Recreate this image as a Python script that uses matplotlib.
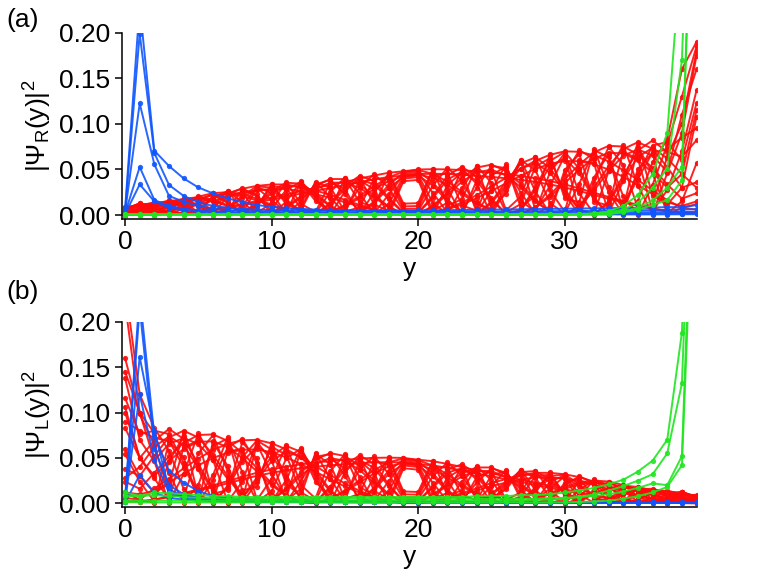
import matplotlib
matplotlib.use("Agg")
import matplotlib.pyplot as plt
from matplotlib.ticker import FormatStrFormatter

plt.rcParams['font.family'] = ['Liberation Sans', 'DejaVu Sans']
plt.rcParams['mathtext.fontset'] = 'custom'
plt.rcParams['mathtext.rm'] = 'Liberation Sans'
plt.rcParams['mathtext.it'] = 'Liberation Sans'
plt.rcParams['mathtext.default'] = 'regular'

sites = list(range(40))

# bulk states, panel (a), sites 0..37
red_a_body = [
    [.0001, .0003, .0007, .0015, .0025, .0041, .0063, .0089, .0122, .0154, .0189, .0228, .0261, .0293, .0333, .0363, .0400, .0434, .0464, .0480, .0500, .0503, .0501, .0493, .0478, .0466, .0448, .0430, .0404, .0373, .0337, .0292, .0245, .0198, .0154, .0112, .0075, .0043],
    [.0003, .0012, .0028, .0053, .0087, .0133, .0185, .0239, .0289, .0320, .0336, .0335, .0308, .0268, .0223, .0166, .0112, .0063, .0024, .0003, .0003, .0027, .0073, .0138, .0219, .0312, .0409, .0508, .0595, .0661, .0699, .0694, .0656, .0587, .0493, .0385, .0271, .0164],
    [.0006, .0026, .0057, .0101, .0150, .0202, .0240, .0251, .0232, .0178, .0113, .0050, .0009, .0002, .0036, .0107, .0207, .0317, .0416, .0474, .0494, .0452, .0367, .0255, .0141, .0051, .0003, .0014, .0090, .0222, .0390, .0556, .0688, .0759, .0752, .0666, .0518, .0336],
    [.0011, .0043, .0088, .0142, .0180, .0195, .0169, .0109, .0042, .0002, .0018, .0094, .0206, .0317, .0395, .0395, .0332, .0216, .0093, .0011, .0012, .0100, .0250, .0409, .0521, .0553, .0483, .0340, .0167, .0035, .0004, .0101, .0300, .0536, .0725, .0799, .0727, .0525],
    [.0017, .0063, .0117, .0160, .0159, .0117, .0047, .0002, .0027, .0130, .0262, .0355, .0344, .0240, .0104, .0009, .0022, .0149, .0331, .0463, .0482, .0360, .0172, .0028, .0012, .0146, .0367, .0567, .0632, .0517, .0284, .0066, .0004, .0150, .0434, .0709, .0819, .0691],
    [.0024, .0082, .0135, .0149, .0100, .0029, .0001, .0070, .0212, .0316, .0301, .0173, .0034, .0009, .0132, .0317, .0430, .0375, .0190, .0025, .0026, .0207, .0433, .0529, .0417, .0185, .0013, .0056, .0308, .0594, .0691, .0508, .0193, .0005, .0109, .0446, .0763, .0800],
    [.0031, .0100, .0140, .0113, .0035, .0001, .0079, .0225, .0296, .0202, .0048, .0008, .0150, .0337, .0386, .0228, .0039, .0023, .0226, .0446, .0465, .0245, .0027, .0048, .0301, .0540, .0514, .0247, .0015, .0094, .0442, .0711, .0616, .0252, .0005, .0158, .0578, .0829],
    [.0040, .0115, .0130, .0065, .0001, .0055, .0200, .0260, .0144, .0007, .0067, .0278, .0365, .0212, .0021, .0057, .0303, .0450, .0297, .0044, .0046, .0322, .0519, .0374, .0076, .0029, .0323, .0602, .0494, .0132, .0016, .0346, .0713, .0633, .0204, .0005, .0332, .0772],
    [.0049, .0125, .0108, .0022, .0016, .0148, .0237, .0130, .0002, .0106, .0316, .0300, .0073, .0020, .0253, .0410, .0240, .0010, .0123, .0425, .0443, .0133, .0012, .0295, .0539, .0354, .0030, .0120, .0533, .0623, .0232, .0004, .0356, .0750, .0550, .0073, .0115, .0641],
    [.0058, .0130, .0078, .0001, .0073, .0207, .0152, .0006, .0099, .0308, .0240, .0019, .0097, .0353, .0309, .0037, .0085, .0399, .0392, .0067, .0070, .0425, .0461, .0104, .0049, .0432, .0539, .0159, .0033, .0472, .0675, .0238, .0017, .0480, .0770, .0324, .0005, .0462],
    [.0067, .0128, .0046, .0008, .0139, .0186, .0034, .0053, .0279, .0226, .0008, .0146, .0370, .0183, .0002, .0259, .0415, .0117, .0043, .0400, .0417, .0046, .0136, .0511, .0341, .0003, .0279, .0609, .0259, .0015, .0494, .0670, .0146, .0106, .0691, .0618, .0043, .0275],
    [.0076, .0121, .0020, .0042, .0178, .0101, .0006, .0208, .0250, .0017, .0138, .0360, .0122, .0035, .0354, .0289, .0003, .0251, .0453, .0095, .0099, .0492, .0290, .0003, .0381, .0496, .0053, .0202, .0639, .0271, .0036, .0600, .0571, .0017, .0375, .0790, .0214, .0116],
    [.0085, .0108, .0003, .0089, .0167, .0019, .0097, .0266, .0059, .0084, .0340, .0119, .0052, .0366, .0192, .0021, .0381, .0284, .0003, .0371, .0386, .0003, .0329, .0470, .0028, .0269, .0559, .0085, .0212, .0669, .0183, .0142, .0730, .0308, .0071, .0744, .0457, .0019],
    [.0093, .0092, .0001, .0133, .0114, .0005, .0213, .0150, .0016, .0298, .0164, .0033, .0357, .0154, .0056, .0405, .0142, .0089, .0470, .0125, .0131, .0509, .0102, .0175, .0533, .0078, .0235, .0588, .0058, .0322, .0651, .0037, .0412, .0673, .0018, .0506, .0683, .0005],
    # second set of smooth arcs, slightly lower
    [.0001, .0003, .0006, .0014, .0023, .0037, .0057, .0080, .0110, .0139, .0170, .0205, .0235, .0264, .0300, .0327, .0360, .0391, .0418, .0432, .0450, .0453, .0451, .0444, .0430, .0419, .0403, .0387, .0364, .0336, .0303, .0263, .0221, .0178, .0139, .0101, .0068, .0039],
    [.0003, .0010, .0024, .0045, .0074, .0113, .0157, .0203, .0246, .0272, .0286, .0285, .0262, .0228, .0190, .0141, .0095, .0054, .0020, .0003, .0003, .0023, .0062, .0117, .0186, .0265, .0348, .0432, .0506, .0562, .0594, .0590, .0558, .0499, .0419, .0327, .0230, .0139],
    [.0005, .0023, .0051, .0091, .0135, .0182, .0216, .0226, .0209, .0160, .0102, .0045, .0008, .0002, .0032, .0096, .0186, .0285, .0374, .0427, .0445, .0407, .0330, .0230, .0127, .0046, .0003, .0013, .0081, .0200, .0351, .0500, .0619, .0683, .0677, .0599, .0466, .0302],
    [.0010, .0039, .0079, .0128, .0162, .0176, .0152, .0098, .0038, .0002, .0016, .0085, .0185, .0285, .0356, .0356, .0299, .0194, .0084, .0010, .0011, .0090, .0225, .0368, .0469, .0498, .0435, .0306, .0150, .0032, .0004, .0091, .0270, .0482, .0653, .0719, .0654, .0473],
    [.0015, .0057, .0105, .0144, .0143, .0105, .0042, .0002, .0024, .0117, .0236, .0320, .0310, .0216, .0094, .0008, .0020, .0134, .0298, .0417, .0434, .0324, .0155, .0025, .0011, .0131, .0330, .0510, .0569, .0465, .0256, .0059, .0004, .0135, .0391, .0638, .0737, .0622],
    [.0022, .0074, .0122, .0134, .0090, .0026, .0001, .0063, .0191, .0284, .0271, .0156, .0031, .0008, .0119, .0285, .0387, .0338, .0171, .0023, .0023, .0186, .0390, .0476, .0375, .0167, .0012, .0050, .0277, .0535, .0622, .0457, .0174, .0005, .0098, .0401, .0687, .0720],
]
# last two sites (38, 39) of panel (a)
red_a_y38 = [.003, .008, .018, .030, .064, .060, .160, .130, .100, .090, .070, .030, .015, .008,
             .002, .010, .045, .110, .045, .085]
red_a_y39 = [.003, .006, .024, .036, .082, .123, .190, .185, .180, .175, .137, .108, .057, .012,
             .002, .015, .115, .160, .030, .095]
# first two sites (0, 1) of panel (b); the rest mirrors panel (a)
red_b_y0 = [.002, .006, .024, .038, .083, .116, .240, .220, .160, .138, .106, .060, .054, .012,
            .003, .012, .100, .145, .028, .090]
red_b_y1 = [.002, .004, .016, .030, .050, .076, .120, .100, .098, .070, .050, .030, .024, .004,
            .002, .010, .050, .100, .040, .080]

blue_a = [
    [.006, .23, .0706, .0538, .0402, .0303, .0238, .0183, .0140, .0110, .0090, .0078, .0068, .0060, .0055, .0050, .0047, .0045, .0043, .0042,
     .0041, .0040, .0040, .0040, .0040, .0040, .0040, .0041, .0042, .0043, .0044, .0045, .0046, .0048, .0050, .0052, .0055, .0058, .0060, .0065],
    [.004, .199, .068, .033, .021, .014, .010, .008, .0068, .0060, .0055, .0052, .0050, .0050, .0050, .0050, .0050, .0050, .0050, .0050,
     .0052, .0053, .0055, .0056, .0058, .0060, .0062, .0064, .0066, .0068, .0070, .0072, .0074, .0076, .0078, .0080, .0082, .0088, .0085, .0110],
    [.003, .1225, .0556, .021, .0146, .010, .007, .0055, .0045, .0040, .0037, .0035, .0034, .0033, .0032, .0031, .0030, .0030, .0030, .0030,
     .0030, .0030, .0030, .0030, .0030, .0030, .0030, .0030, .0030, .0030, .0030, .0030, .0030, .0030, .0030, .0031, .0032, .0033, .0034, .0036],
    [.002, .0527, .0165, .0100, .0070, .0050, .0040, .0033, .0028, .0025, .0022, .0020, .0019, .0018, .0017, .0016, .0015, .0015, .0015, .0015,
     .0015, .0015, .0015, .0015, .0015, .0015, .0015, .0015, .0015, .0015, .0015, .0015, .0015, .0015, .0015, .0015, .0015, .0016, .0017, .0018],
    [.001, .0336, .0150, .0080, .0050, .0035, .0027, .0020, .0016, .0013, .0011, .0010, .0009, .0008, .0008, .0008, .0007, .0007, .0007, .0007,
     .0007, .0007, .0007, .0007, .0007, .0007, .0007, .0007, .0007, .0007, .0007, .0007, .0007, .0007, .0007, .0007, .0007, .0008, .0008, .0009],
]
blue_b = [
    [.005, .23, .074, .036, .0227, .0135, .008, .006, .005, .0042, .0036, .0032, .0030, .0028, .0026, .0025, .0024, .0023, .0022, .0021,
     .0020, .0019, .0018, .0017, .0016, .0015, .0014, .0013, .0012, .0012, .0011, .0011, .0010, .0010, .0010, .0010, .0010, .0010, .0010, .0010],
    [.004, .215, .060, .020, .010, .006, .0045, .0038, .0033, .0030, .0028, .0026, .0024, .0022, .0020, .0018, .0017, .0016, .0015, .0014,
     .0013, .0012, .0011, .0010, .0010, .0009, .0009, .0008, .0008, .0008, .0008, .0008, .0008, .0008, .0008, .0008, .0008, .0008, .0008, .0008],
    [.003, .161, .080, .0154, .008, .005, .004, .0035, .0030, .0027, .0025, .0023, .0021, .0020, .0019, .0018, .0017, .0016, .0015, .0014,
     .0014, .0013, .0013, .0012, .0012, .0012, .0011, .0011, .0011, .0011, .0010, .0010, .0010, .0010, .0010, .0010, .0010, .0010, .0010, .0010],
    [.002, .12, .048, .012, .006, .004, .003, .0025, .0022, .0020, .0018, .0017, .0016, .0015, .0014, .0013, .0012, .0011, .0010, .0010,
     .0009, .0009, .0008, .0008, .0008, .0007, .0007, .0007, .0007, .0007, .0006, .0006, .0006, .0006, .0006, .0006, .0006, .0006, .0006, .0006],
    [.001, .031, .012, .006, .004, .003, .0025, .0022, .0020, .0018, .0016, .0015, .0014, .0013, .0012, .0012, .0011, .0011, .0010, .0010,
     .0010, .0010, .0010, .0010, .0010, .0010, .0010, .0010, .0010, .0010, .0010, .0010, .0010, .0010, .0010, .0010, .0010, .0010, .0010, .0010],
]

green_a = [
    [.0010, .0010, .0010, .0010, .0010, .0010, .0010, .0010, .0010, .0010, .0010, .0010, .0010, .0010, .0010, .0010, .0010, .0010, .0010, .0010,
     .0010, .0010, .0010, .0010, .0010, .0010, .0010, .0010, .0010, .0010, .0010, .0010, .0020, .0030, .0060, .0135, .0300, .0510, .170, .60],
    [.0008, .0008, .0008, .0008, .0008, .0008, .0008, .0008, .0008, .0008, .0008, .0008, .0008, .0008, .0008, .0008, .0008, .0008, .0008, .0008,
     .0008, .0008, .0008, .0008, .0008, .0008, .0008, .0008, .0008, .0008, .0008, .0008, .0009, .0010, .0030, .0060, .0110, .0165, .038, .55],
    [.0005, .0005, .0005, .0005, .0005, .0005, .0005, .0005, .0005, .0005, .0005, .0005, .0005, .0005, .0005, .0005, .0005, .0005, .0005, .0005,
     .0005, .0005, .0005, .0005, .0005, .0005, .0005, .0005, .0005, .0005, .0005, .0006, .0010, .0020, .0040, .0080, .0160, .0300, .053, .50],
    [.0003, .0003, .0003, .0003, .0003, .0003, .0003, .0003, .0003, .0003, .0003, .0003, .0003, .0003, .0003, .0003, .0003, .0003, .0003, .0003,
     .0003, .0003, .0003, .0003, .0003, .0003, .0003, .0003, .0003, .0003, .0004, .0008, .0015, .0040, .0100, .0220, .0450, .0900, .300, .45],
]
green_b = [
    [.012, .008, .012, .011, .010, .009, .008, .008, .007, .007, .007, .007, .007, .007, .007, .007, .007, .007, .007, .007,
     .007, .007, .007, .007, .008, .008, .008, .009, .009, .010, .012, .014, .017, .021, .026, .035, .047, .070, .188, .60],
    [.003, .003, .003, .003, .003, .003, .003, .003, .003, .003, .003, .003, .003, .003, .003, .003, .003, .003, .003, .003,
     .003, .003, .003, .003, .003, .003, .003, .003, .004, .004, .005, .007, .010, .014, .019, .025, .032, .055, .132, .55],
    [.008, .008, .009, .008, .007, .006, .006, .005, .005, .005, .005, .005, .005, .005, .005, .005, .005, .005, .005, .005,
     .005, .005, .005, .005, .005, .005, .005, .005, .005, .006, .006, .007, .008, .010, .013, .017, .022, .020, .052, .50],
    [.0015, .001, .001, .001, .001, .001, .001, .001, .001, .001, .001, .001, .001, .001, .001, .001, .001, .001, .001, .001,
     .001, .001, .001, .001, .001, .001, .001, .001, .001, .001, .001, .0015, .002, .003, .005, .008, .012, .018, .042, .45],
]

red_a = [body + [e38, e39] for body, e38, e39 in zip(red_a_body, red_a_y38, red_a_y39)]
red_b = [[s0, s1] + body[::-1] for body, s0, s1 in zip(red_a_body, red_b_y0, red_b_y1)]

RED, BLUE, GREEN = '#ff0a0a', '#0f55ff', '#1fe61f'
FS = 19


def draw(ax, reds, blues, greens):
    style = dict(marker='o', markersize=3.8, markeredgewidth=0, linewidth=1.4, alpha=0.9)
    for v in reds:
        ax.plot(sites, v, color=RED, **style)
    for v in blues:
        ax.plot(sites, v, color=BLUE, **style)
    for v in greens:
        ax.plot(sites, v, color=GREEN, **style)
    ax.set_xlim(-0.23, 39.03)
    ax.set_ylim(-0.004, 0.2)
    ax.set_xticks([0, 10, 20, 30])
    ax.set_yticks([0, 0.05, 0.10, 0.15, 0.20])
    ax.yaxis.set_major_formatter(FormatStrFormatter('%.2f'))
    ax.spines['top'].set_visible(False)
    ax.spines['right'].set_visible(False)
    for s in ('left', 'bottom'):
        ax.spines[s].set_linewidth(1.1)
    ax.tick_params(direction='out', length=5, width=1.1, labelsize=FS, pad=3)
    ax.set_xlabel('y', fontsize=FS, labelpad=2)


fig = plt.figure(figsize=(7.6, 5.8), dpi=100)
ax1 = fig.add_axes([0.1601, 0.6229, 0.757, 0.3207])
ax2 = fig.add_axes([0.1601, 0.1259, 0.757, 0.3195])

draw(ax1, red_a, blue_a, green_a)
draw(ax2, red_b, blue_b, green_b)
ax1.set_ylabel(r'$|\Psi_R(y)|^2$', fontsize=FS)
ax2.set_ylabel(r'$|\Psi_L(y)|^2$', fontsize=FS)

fig.text(0.008, 0.966, '(a)', fontsize=FS, va='center')
fig.text(0.008, 0.497, '(b)', fontsize=FS, va='center')

fig.savefig('out.png', dpi=100)
